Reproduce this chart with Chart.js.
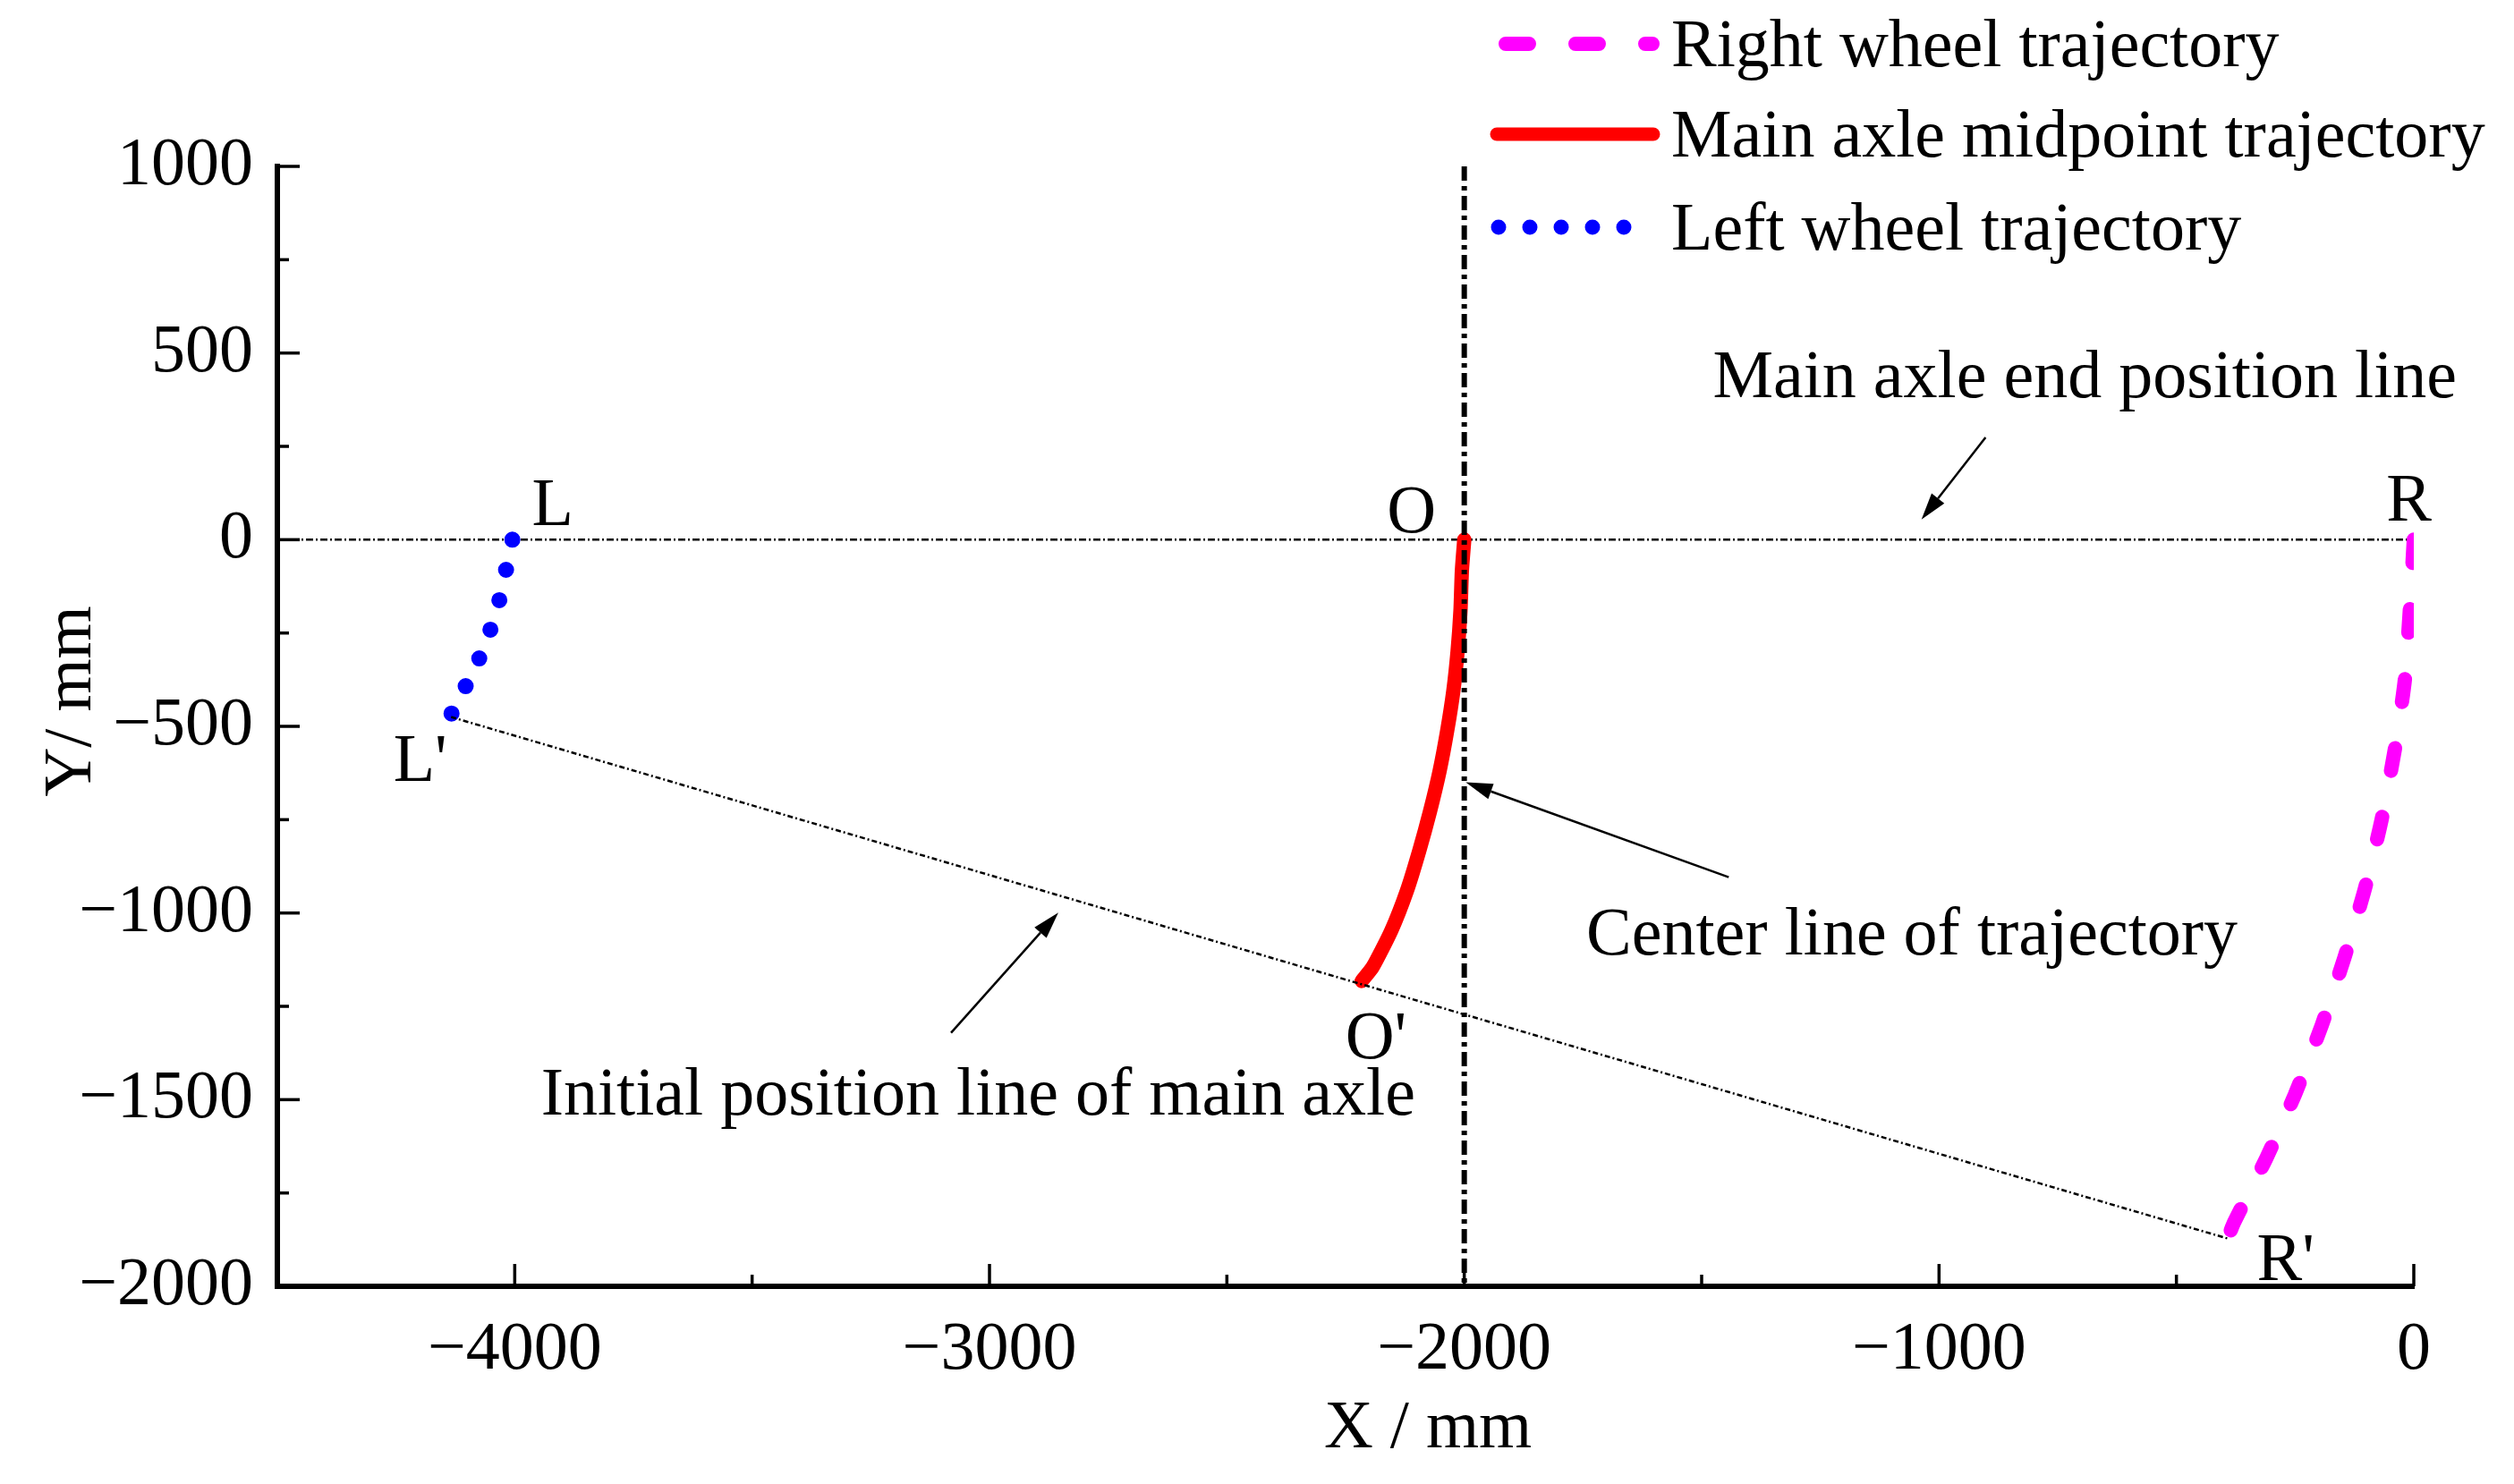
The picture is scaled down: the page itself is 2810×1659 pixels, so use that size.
<!DOCTYPE html>
<html>
<head>
<meta charset="utf-8">
<script src="https://cdn.jsdelivr.net/npm/chart.js@4.4.1/dist/chart.umd.min.js"></script>
<style>
html, body { margin: 0; padding: 0; background: #fff; }
</style>
</head>
<body>
<canvas id="chart" width="2810" height="1659"></canvas>
<script>
const FONT = '"Liberation Serif", "Times New Roman", serif';

// axis ticks
const xTicks = [-4000, -3000, -2000, -1000, 0];
const xMinorTicks = [-3500, -2500, -1500, -500];
const yTicks = [1000, 500, 0, -500, -1000, -1500, -2000];
const yMinorTicks = [750, 250, -250, -750, -1250, -1750];

// right wheel trajectory (R -> R')
const rightX = [0, -8, -19, -40, -68, -103, -146, -194, -250, -310, -379, -392];
const rightY = [0, -181, -377, -562, -751, -935, -1119, -1301, -1485, -1655, -1830, -1872];

// main axle midpoint trajectory (O -> O')
const midX = [-2000, -2005, -2008, -2014, -2023, -2036, -2052, -2072, -2095, -2121, -2154, -2193, -2216];
const midY = [0, -84, -191, -298, -405, -512, -620, -727, -834, -941, -1048, -1145, -1182];

// left wheel trajectory (L -> L')
const leftX = [-4005, -4018, -4033, -4052, -4076, -4104, -4134];
const leftY = [0, -79, -165, -244, -322, -394, -468];

// reference lines
const endLineX = [-4500, 0];
const endLineY = [0, 0];
const initLineX = [-4134, -392];
const initLineY = [-475, -1872];
const centerLineX = [-2000, -2000];
const centerLineY = [1000, -2000];

// text labels and arrows (data coordinates)
const pointLabels = [
    { text: "L", x: -3920, y: 100 },
    { text: "L'", x: -4199, y: -586 },
    { text: "O", x: -2111, y: 80 },
    { text: "O'", x: -2186, y: -1330 },
    { text: "R", x: -10, y: 110 },
    { text: "R'", x: -270, y: -1923 },
    { text: "Main axle end position line", x: -693, y: 441 },
    { text: "Center line of trajectory", x: -1057, y: -1050 },
    { text: "Initial position line of main axle", x: -3024, y: -1480 }
];
const arrows = [
    { from: [-902, 274], to: [-1037, 54] },
    { from: [-1443, -904], to: [-1997, -650] },
    { from: [-3081, -1321], to: [-2855, -999] }
];

const legendNames = ["Right wheel trajectory", "Main axle midpoint trajectory", "Left wheel trajectory"];

function toPoints(xs, ys) {
    return xs.map((x, i) => ({ x: x, y: ys[i] }));
}

function fmt(v) {
    return v < 0 ? "\u2212" + Math.abs(v) : String(v);
}

function line(ctx, x1, y1, x2, y2) {
    ctx.beginPath();
    ctx.moveTo(x1, y1);
    ctx.lineTo(x2, y2);
    ctx.stroke();
}

const decor = {
    id: "decor",
    afterDraw(chart) {
        const ctx = chart.ctx;
        const xs = chart.scales.x;
        const ys = chart.scales.y;
        const area = chart.chartArea;
        ctx.save();

        // inward ticks
        ctx.strokeStyle = "#000";
        ctx.lineWidth = 3.5;
        xTicks.forEach(v => { const p = xs.getPixelForValue(v); line(ctx, p, area.bottom, p, area.bottom - 25); });
        xMinorTicks.forEach(v => { const p = xs.getPixelForValue(v); line(ctx, p, area.bottom, p, area.bottom - 13); });
        yTicks.forEach(v => { const p = ys.getPixelForValue(v); line(ctx, area.left, p, area.left + 25, p); });
        yMinorTicks.forEach(v => { const p = ys.getPixelForValue(v); line(ctx, area.left, p, area.left + 13, p); });

        // text labels
        ctx.fillStyle = "#000";
        ctx.font = "76px " + FONT;
        ctx.textAlign = "center";
        ctx.textBaseline = "alphabetic";
        pointLabels.forEach(l => {
            ctx.fillText(l.text, xs.getPixelForValue(l.x), ys.getPixelForValue(l.y) + 25);
        });

        // arrows
        ctx.lineWidth = 2.5;
        arrows.forEach(a => {
            const x1 = xs.getPixelForValue(a.from[0]), y1 = ys.getPixelForValue(a.from[1]);
            const x2 = xs.getPixelForValue(a.to[0]), y2 = ys.getPixelForValue(a.to[1]);
            const ang = Math.atan2(y2 - y1, x2 - x1);
            const len = 30, hw = 9;
            const bx = x2 - len * Math.cos(ang), by = y2 - len * Math.sin(ang);
            line(ctx, x1, y1, bx, by);
            ctx.beginPath();
            ctx.moveTo(x2, y2);
            ctx.lineTo(bx + hw * Math.sin(ang), by - hw * Math.cos(ang));
            ctx.lineTo(bx - hw * Math.sin(ang), by + hw * Math.cos(ang));
            ctx.closePath();
            ctx.fill();
        });

        // legend
        const ly = [49, 150, 254];
        ctx.lineCap = "round";
        ctx.strokeStyle = "#ff00ff"; ctx.lineWidth = 16; ctx.setLineDash([26, 52]);
        line(ctx, 1683, ly[0], 1847, ly[0]);
        ctx.strokeStyle = "#ff0000"; ctx.lineWidth = 15; ctx.setLineDash([]);
        line(ctx, 1673, ly[1], 1848, ly[1]);
        ctx.strokeStyle = "#0000ff"; ctx.lineWidth = 17; ctx.setLineDash([0, 35]);
        line(ctx, 1675, ly[2], 1816, ly[2]);
        ctx.setLineDash([]);
        ctx.textAlign = "left";
        legendNames.forEach((n, i) => ctx.fillText(n, 1868, ly[i] + 25));

        // axis titles
        ctx.textAlign = "center";
        ctx.fillText("X / mm", 1596, 1618);
        ctx.translate(101, 784);
        ctx.rotate(-Math.PI / 2);
        ctx.fillText("Y/ mm", 0, 0);
        ctx.restore();
    }
};

const tickFont = { family: FONT, size: 76 };

new Chart(document.getElementById("chart"), {
    type: "scatter",
    data: {
        datasets: [
            { label: legendNames[0], data: toPoints(rightX, rightY), showLine: true, pointRadius: 0,
              borderColor: "#ff00ff", borderWidth: 16, borderDash: [26, 52], borderCapStyle: "round", tension: 0.2, order: 2 },
            { label: legendNames[1], data: toPoints(midX, midY), showLine: true, pointRadius: 0,
              borderColor: "#ff0000", borderWidth: 16, borderCapStyle: "round", tension: 0.2, order: 3 },
            { label: legendNames[2], data: toPoints(leftX, leftY), showLine: true, pointRadius: 0,
              borderColor: "#0000ff", borderWidth: 18, borderDash: [0, 34.5], borderCapStyle: "round", tension: 0.2, order: 1 },
            { label: "end", data: toPoints(endLineX, endLineY), showLine: true, pointRadius: 0,
              borderColor: "#000", borderWidth: 2.5, borderDash: [8, 3, 2, 3], order: 5 },
            { label: "initial", data: toPoints(initLineX, initLineY), showLine: true, pointRadius: 0,
              borderColor: "#000", borderWidth: 2.5, borderDash: [6, 3, 2, 3], order: 0.5 },
            { label: "center", data: toPoints(centerLineX, centerLineY), showLine: true, pointRadius: 0,
              borderColor: "#000", borderWidth: 6, borderDash: [16, 6, 5, 6], order: 0 }
        ]
    },
    options: {
        responsive: false,
        devicePixelRatio: 1,
        animation: false,
        layout: { padding: { top: 186, right: 112, left: 0, bottom: 0 } },
        plugins: { legend: { display: false }, tooltip: { enabled: false } },
        scales: {
            x: {
                type: "linear", min: -4500, max: 0,
                afterBuildTicks: s => { s.ticks = xTicks.map(v => ({ value: v })); },
                afterFit: s => { s.height = 221; },
                grid: { display: true, drawOnChartArea: false, drawTicks: false },
                border: { display: true, color: "#000", width: 6 },
                ticks: { color: "#000", font: tickFont, padding: 26, maxRotation: 0, autoSkip: false, callback: fmt }
            },
            y: {
                type: "linear", min: -2000, max: 1000,
                afterBuildTicks: s => { s.ticks = yTicks.map(v => ({ value: v })); },
                afterFit: s => { s.width = 310; },
                grid: { display: true, drawOnChartArea: false, drawTicks: false },
                border: { display: true, color: "#000", width: 6 },
                ticks: { color: "#000", font: tickFont, padding: 27, autoSkip: false, callback: fmt }
            }
        }
    },
    plugins: [decor]
});
</script>
</body>
</html>
